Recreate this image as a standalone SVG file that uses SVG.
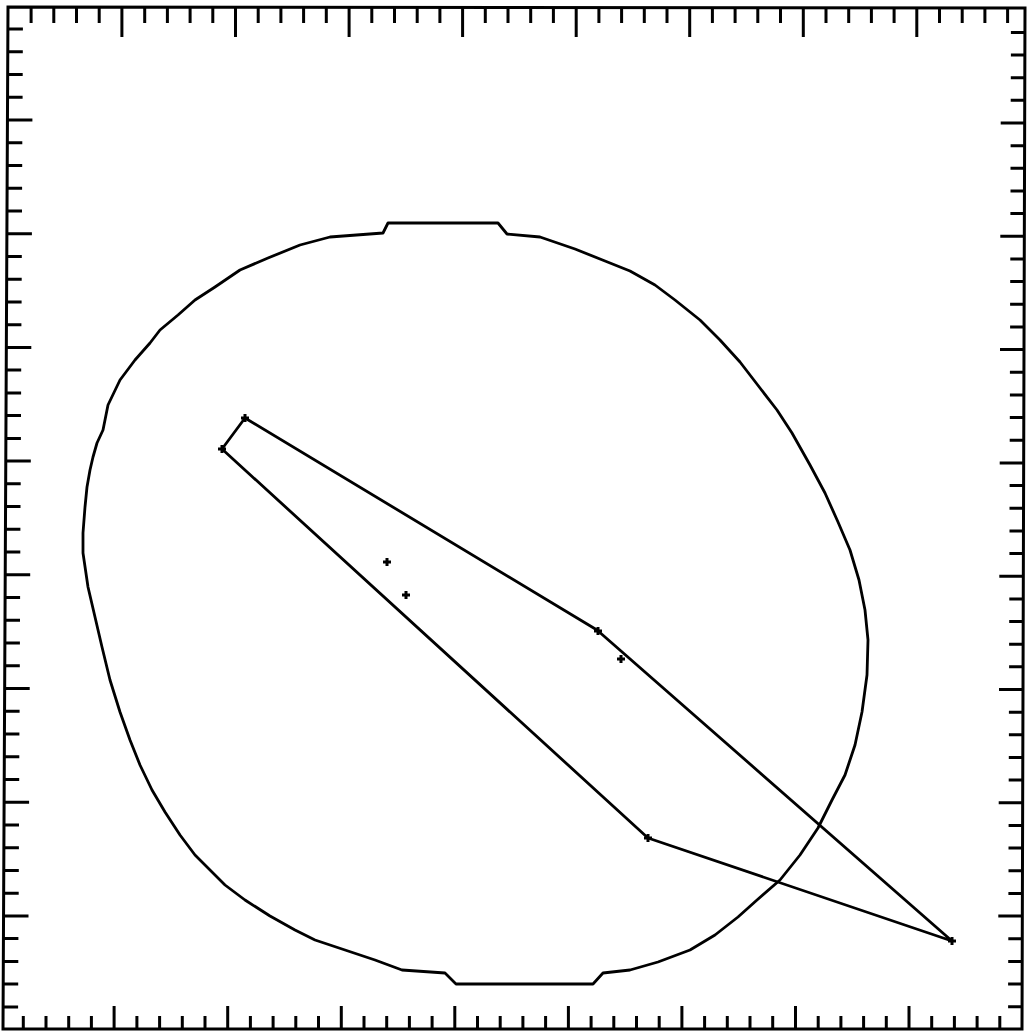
<svg xmlns="http://www.w3.org/2000/svg" width="1027" height="1034" viewBox="0 0 1027 1034">
<style>
.frame{fill:none;stroke:#000;stroke-width:3;stroke-linejoin:miter}
.tick{fill:none;stroke:#000;stroke-width:3}
.curve{fill:none;stroke:#000;stroke-width:2.8;stroke-linejoin:round}
.mark{fill:none;stroke:#000;stroke-width:3}
</style>
<defs>
<path id="m" class="mark" d="M-4 0h8M0 -4v8"/>
</defs>
<rect width="1027" height="1034" fill="#fff"/>
<g id="frame">
<path class="frame" d="M8 7L1025 8L1022 1029L3 1029Z"/>
</g>
<g id="ticks-top" class="tick">
<path d="M31.1 8v15M53.8 8v15M76.5 8v15M99.2 8v15M121.9 8v29M144.7 8v15M167.4 8v15M190.1 8v15M212.8 8v15M235.5 8v29M258.2 8v15M280.9 8v15M303.6 8v15M326.3 8v15M349.1 8v29M371.8 8v15M394.5 8v15M417.2 8v15M439.9 8v15M462.6 8v29M485.3 8v15M508 8v15M530.7 8v15M553.4 8v15M576.2 8v29M598.9 8v15M621.6 8v15M644.3 8v15M667 8v15M689.7 8v29M712.4 8v15M735.1 8v15M757.8 8v15M780.5 8v15M803.3 8v29M826 8v15M848.7 8v15M871.4 8v15M894.1 8v15M916.8 8v29M939.5 8v15M962.2 8v15M984.9 8v15M1007.6 8v15"/>
</g>
<g id="ticks-bottom" class="tick">
<path d="M23.3 1029v-13M46 1029v-13M68.7 1029v-13M91.4 1029v-13M114.1 1029v-23M136.9 1029v-13M159.6 1029v-13M182.3 1029v-13M205 1029v-13M227.7 1029v-23M250.4 1029v-13M273.1 1029v-13M295.8 1029v-13M318.5 1029v-13M341.3 1029v-23M364 1029v-13M386.7 1029v-13M409.4 1029v-13M432.1 1029v-13M454.8 1029v-23M477.5 1029v-13M500.2 1029v-13M522.9 1029v-13M545.6 1029v-13M568.4 1029v-23M591.1 1029v-13M613.8 1029v-13M636.5 1029v-13M659.2 1029v-13M681.9 1029v-23M704.6 1029v-13M727.3 1029v-13M750 1029v-13M772.7 1029v-13M795.5 1029v-23M818.2 1029v-13M840.9 1029v-13M863.6 1029v-13M886.3 1029v-13M909 1029v-23M931.7 1029v-13M954.4 1029v-13M977.1 1029v-13M999.8 1029v-13"/>
</g>
<g id="ticks-left" class="tick">
<path d="M7.9 29h15M7.8 51.8h15M7.7 74.5h15M7.6 97.3h15M7.4 120h25M7.3 142.7h15M7.2 165.5h15M7.1 188.2h15M7 211h15M6.9 233.7h25M6.8 256.4h15M6.7 279.2h15M6.6 301.9h15M6.4 324.7h15M6.3 347.4h25M6.2 370.1h15M6.1 392.9h15M6 415.6h15M5.9 438.4h15M5.8 461.1h25M5.7 483.8h15M5.5 506.6h15M5.4 529.3h15M5.3 552.1h15M5.2 574.8h25M5.1 597.5h15M5 620.3h15M4.9 643h15M4.8 665.8h15M4.7 688.5h25M4.6 711.2h15M4.4 734h15M4.3 756.7h15M4.2 779.5h15M4.1 802.2h25M4 824.9h15M3.9 847.7h15M3.8 870.4h15M3.7 893.2h15M3.5 915.9h25M3.4 938.6h15M3.3 961.4h15M3.2 984.1h15M3.1 1006.9h15"/>
</g>
<g id="ticks-right" class="tick">
<path d="M1024.9 32.4h-14M1024.9 55h-14M1024.8 77.7h-14M1024.7 100.3h-14M1024.7 123h-24M1024.6 145.7h-14M1024.5 168.3h-14M1024.5 191h-14M1024.4 213.6h-14M1024.3 236.3h-24M1024.3 259h-14M1024.2 281.6h-14M1024.1 304.3h-14M1024.1 326.9h-14M1024 349.6h-24M1023.9 372.3h-14M1023.9 394.9h-14M1023.8 417.6h-14M1023.7 440.2h-14M1023.7 462.9h-24M1023.6 485.6h-14M1023.5 508.2h-14M1023.5 530.9h-14M1023.4 553.5h-14M1023.3 576.2h-24M1023.3 598.9h-14M1023.2 621.5h-14M1023.1 644.2h-14M1023.1 666.8h-14M1023 689.5h-24M1022.9 712.2h-14M1022.9 734.8h-14M1022.8 757.5h-14M1022.7 780.1h-14M1022.7 802.8h-24M1022.6 825.5h-14M1022.5 848.1h-14M1022.5 870.8h-14M1022.4 893.4h-14M1022.3 916.1h-24M1022.3 938.8h-14M1022.2 961.4h-14M1022.1 984.1h-14M1022.1 1006.7h-14"/>
</g>
<g id="ellipse">
<path class="curve" d="M388 223L498 223L507 234L540 237L575 249L605 261L630 271L655 285L675 300L700 320L720 340L740 362L760 388L777 410L792 433L810 465L825 493L838 522L850 550L859 580L865 610L868 640L867 675L862 712L855 745L845 775L832 800L818 828L800 855L780 880L757 900L738 917L715 935L690 950L658 962L630 970L603 973L593 984L456 984L445 973L402 970L375 960L345 950L315 940L295 930L270 916L245 900L225 885L210 870L195 855L180 835L165 812L152 790L140 765L130 740L120 712L110 680L102 647L95 617L88 587L83 553L83 533L85 507L87 487L90 470L93 457L97 443L103 430L108 405L120 380L135 360L150 343L160 330L178 315L195 300L215 287L240 270L268 258L300 245L330 237L383 233Z"/>
</g>
<g id="polygon">
<path class="curve" d="M222 449L245 418L597 630L952 941L648 838Z"/>
</g>
<g id="marks">
<use href="#m" x="245" y="418"/>
<use href="#m" x="222" y="449"/>
<use href="#m" x="387" y="562"/>
<use href="#m" x="406" y="595"/>
<use href="#m" x="598" y="631"/>
<use href="#m" x="621" y="659"/>
<use href="#m" x="648" y="838"/>
<use href="#m" x="952" y="941"/>
</g>
</svg>
